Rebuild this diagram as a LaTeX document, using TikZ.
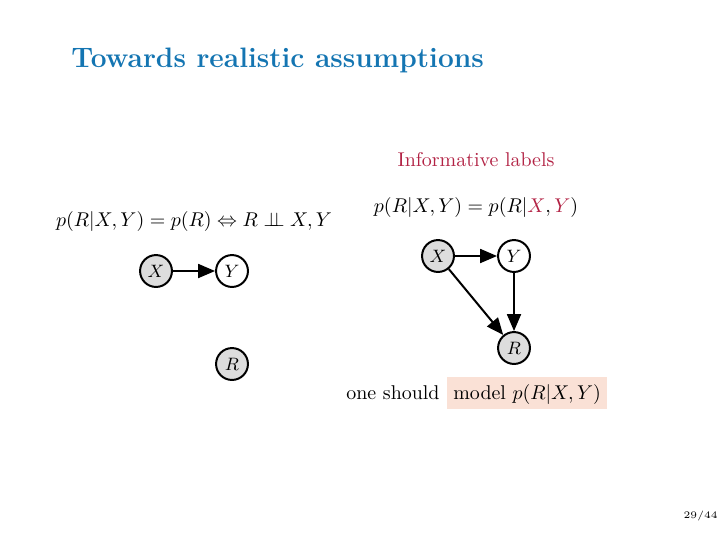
\documentclass[tikz,border=0pt]{standalone}
\usepackage{amsmath,amssymb}
\usetikzlibrary{arrows.meta}
\definecolor{titleblue}{RGB}{20,117,178}
\definecolor{alertred}{RGB}{178,34,68}
\definecolor{boxfill}{RGB}{250,225,214}
\definecolor{nodegray}{RGB}{221,221,221}
\tikzset{
  var/.style={circle,draw=black,line width=1pt,minimum size=16pt,inner sep=0pt,font=\fontsize{9}{10}\selectfont},
  obs/.style={var,fill=nodegray},
  lat/.style={var,fill=white},
  edge/.style={line width=1pt,-{Triangle[length=8.5pt,width=7pt]}},
  txt/.style={inner sep=0pt,font=\fontsize{10}{12}\selectfont}
}
\begin{document}
\begin{tikzpicture}[x=0.50164pt,y=-0.50164pt]
\useasboundingbox (0,0) rectangle (726,544);
\node[anchor=base west,inner sep=0pt,text=titleblue,font=\fontsize{14.1}{17}\selectfont\bfseries] (title) at (71,67) {Towards realistic assumptions};
% left
\node[txt,anchor=base] (lf) at (194,226) {$p(R|X,Y) = p(R) \Leftrightarrow R \mathrel{\perp\!\!\!\perp} X, Y$};
\node[obs] (x1) at (156,271) {$X$};
\node[lat] (y1) at (232,271) {$Y$};
\node[obs] (r1) at (232,364) {$R$};
\draw[edge] (x1) -- (y1);
% right
\node[txt,anchor=base,text=alertred] (il) at (476,166) {Informative labels};
\node[txt,anchor=base] (rf) at (476,212) {$p(R|X,Y) = p(R|\textcolor{alertred}{X},\textcolor{alertred}{Y})$};
\node[obs] (x2) at (438,256) {$X$};
\node[lat] (y2) at (514,256) {$Y$};
\node[obs] (r2) at (514,348) {$R$};
\draw[edge] (x2) -- (y2);
\draw[edge] (x2) -- (r2);
\draw[edge] (y2) -- (r2);
\node[txt,anchor=base west] (os) at (346,399) {one should};
\node[anchor=base west,fill=boxfill,inner xsep=3pt,inner ysep=0pt,text height=11pt,text depth=5pt,font=\fontsize{10}{12}\selectfont] (mb) at (447,399) {model $p(R|X,Y)$};
\node[anchor=base east,inner sep=0pt,font=\fontsize{5}{6}\selectfont] (pg) at (718,518) {29/44};
\end{tikzpicture}
\end{document}
